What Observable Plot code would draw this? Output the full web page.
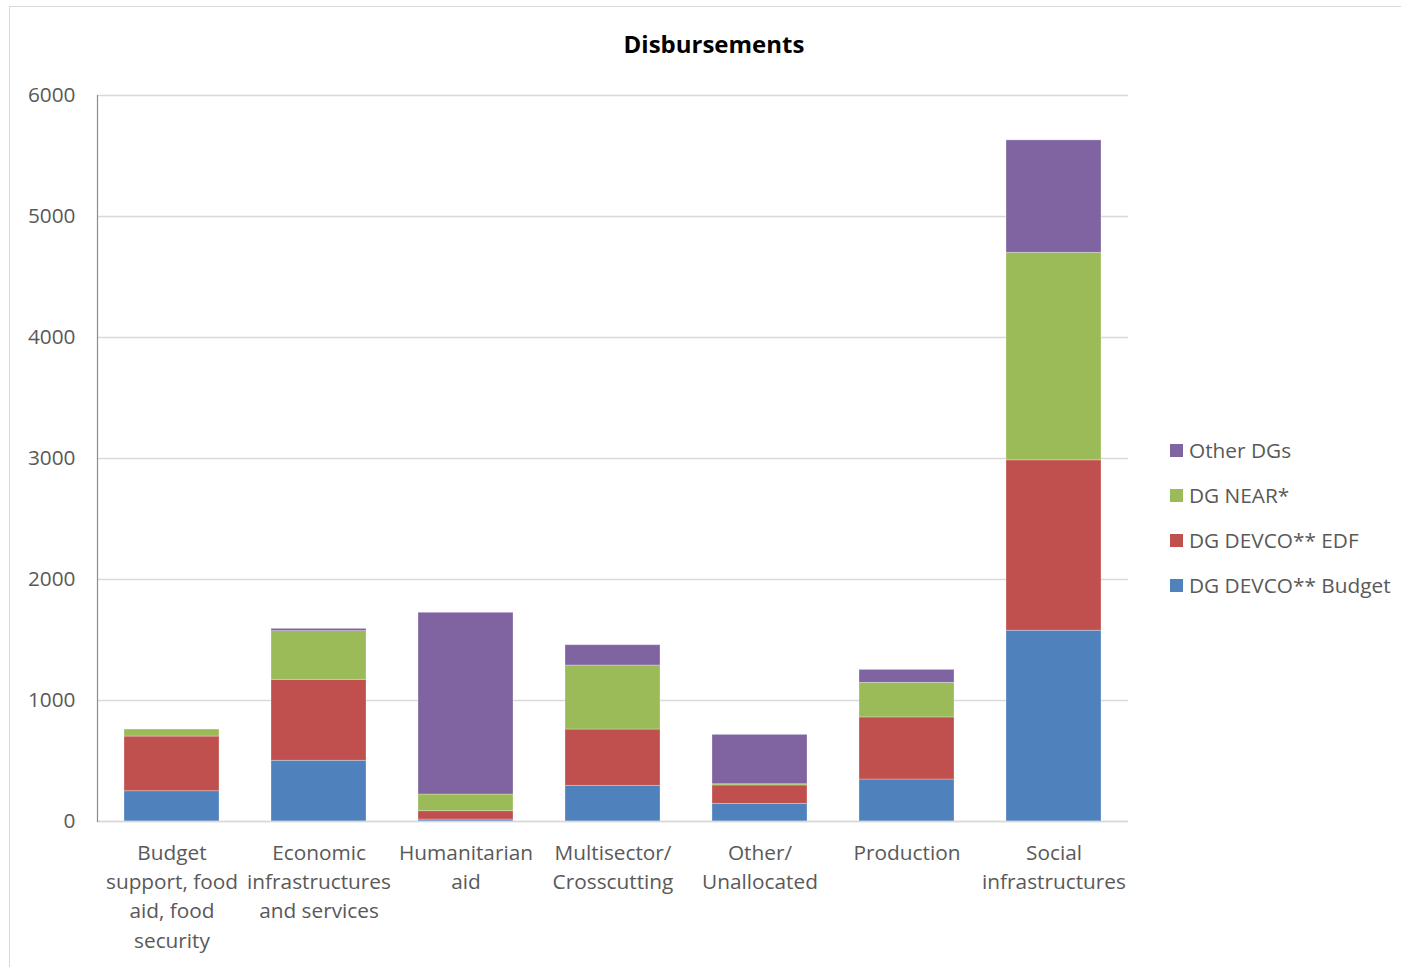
<!DOCTYPE html>
<html><head><meta charset="utf-8">
<script src="https://cdn.jsdelivr.net/npm/d3@7"></script>
<script src="https://cdn.jsdelivr.net/npm/@observablehq/plot@0.6"></script>
<style>
body{margin:0;background:#fff;overflow:hidden;font-family:"Open Sans",sans-serif}
#wrap{position:relative;width:1401px;height:967px;overflow:hidden}
#frame{position:absolute;left:9px;top:6px;width:1500px;height:1100px;border:1px solid #d9d9d9;box-sizing:border-box}
#title{position:absolute;left:0;width:1428px;top:28px;text-align:center;font-weight:bold;font-size:24px;color:#000;line-height:32px}
#chart{position:absolute;left:0;top:0}
#legend{position:absolute;left:1170px;top:436px}
.item{position:absolute;left:0;white-space:nowrap;font-size:20.8px;color:#595959;line-height:28px;height:28px}
.sw{display:inline-block;width:13px;height:13px;margin-right:6px;vertical-align:middle;position:relative;top:-2px}
</style></head>
<body>
<div id="wrap">
  <div id="frame"></div>
  <div id="chart"></div>
  <div id="title">Disbursements</div>
  <div id="legend"></div>
</div>
<script>
const categories = ["Budget support, food aid, food security","Economic infrastructures and services","Humanitarian aid","Multisector/ Crosscutting","Other/ Unallocated","Production","Social infrastructures"];
const tickLabels = ["Budget\nsupport, food\naid, food\nsecurity","Economic\ninfrastructures\nand services","Humanitarian\naid","Multisector/\nCrosscutting","Other/\nUnallocated","Production","Social\ninfrastructures"];
const seriesNames = ["DG DEVCO** Budget","DG DEVCO** EDF","DG NEAR*","Other DGs"];
const seriesColors = ["#4f81bd","#c0504d","#9bbb59","#8064a2"];
const devcoBudget = [250, 502, 16, 295, 146, 347, 1577];
const devcoEDF    = [452, 669, 69, 465, 152, 513, 1408];
const dgNear      = [58, 402, 138, 529, 10, 286, 1715];
const otherDGs    = [0, 19, 1502, 168, 408, 107, 929];
const yTicks = [0, 1000, 2000, 3000, 4000, 5000, 6000];

const seriesValues = [devcoBudget, devcoEDF, dgNear, otherDGs];
const rows = [];
categories.forEach((c, i) => {
  seriesNames.forEach((s, j) => rows.push({category: c, series: s, value: seriesValues[j][i]}));
});

const chart = Plot.plot({
  width: 1401,
  height: 967,
  marginLeft: 97,
  marginRight: 273,
  marginTop: 95,
  marginBottom: 146,
  style: {fontFamily: "'Open Sans', sans-serif", fontSize: "20.8px", color: "#595959", background: "transparent"},
  x: {domain: categories, paddingInner: 0.355, paddingOuter: 0.1775, label: null},
  y: {domain: [0, 6000], label: null},
  color: {domain: seriesNames, range: seriesColors},
  marks: [
    Plot.gridY(yTicks, {stroke: "#d9d9d9", strokeOpacity: 1, strokeWidth: 1.5}),
    Plot.barY(rows, {x: "category", y: "value", fill: "series", order: seriesNames, stroke: "#ffffff", strokeOpacity: 0.35, strokeWidth: 0.8}),
    Plot.ruleY([0], {stroke: "#d9d9d9", strokeWidth: 1.5}),
    Plot.axisY(yTicks, {tickSize: 0, tickPadding: 22, label: null, tickFormat: (d) => String(d), fill: "#595959", fontSize: 20.8}),
    Plot.axisX({tickSize: 0, tickPadding: 18, label: null, tickFormat: (d) => tickLabels[categories.indexOf(d)], lineHeight: 1.4, fill: "#595959", fontSize: 20.8}),
    Plot.frame({anchor: "left", stroke: "#8c8c8c", strokeWidth: 1.2})
  ]
});
document.getElementById("chart").appendChild(chart);

const legend = document.getElementById("legend");
const order = [3, 2, 1, 0];
order.forEach((j, k) => {
  const d = document.createElement("div");
  d.className = "item";
  d.style.top = (k * 45) + "px";
  d.innerHTML = `<span class="sw" style="background:${seriesColors[j]}"></span>${seriesNames[j]}`;
  legend.appendChild(d);
});
</script>
</body></html>
